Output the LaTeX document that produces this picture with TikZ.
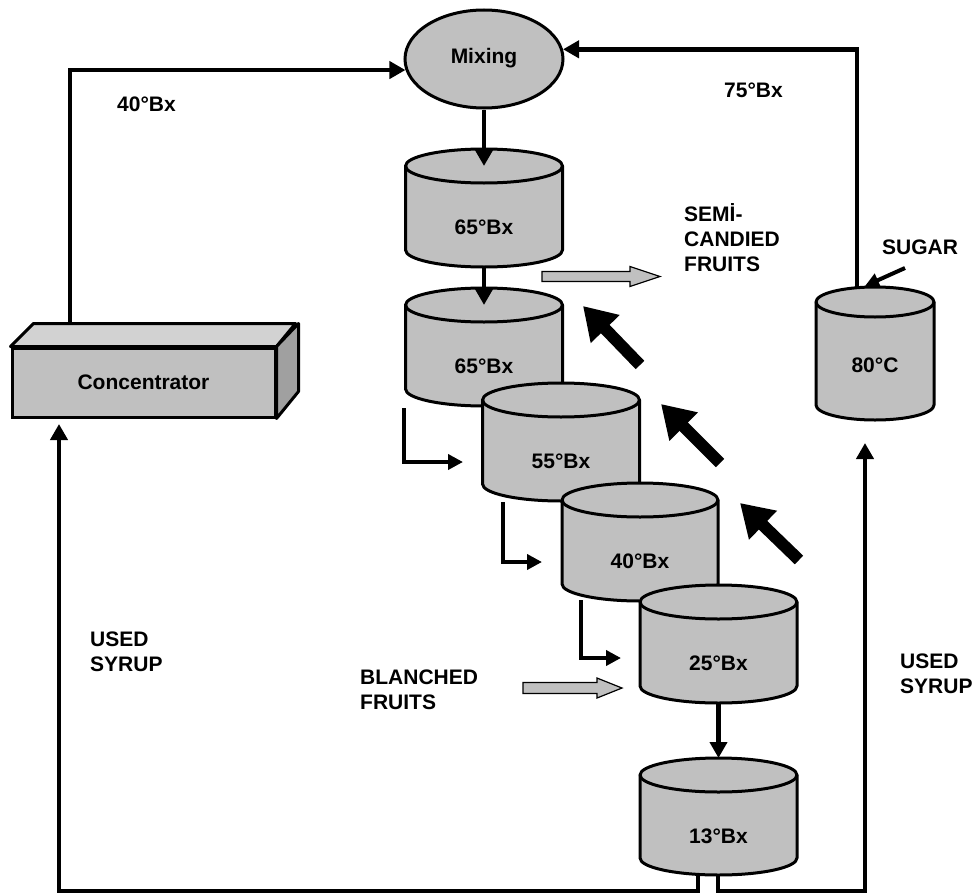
\documentclass[tikz,border=0pt]{standalone}
\usepackage{fontspec}
\setmainfont{Liberation Sans}
\usetikzlibrary{arrows.meta,shapes.geometric}
\definecolor{fillg}{HTML}{C0C0C0}
\definecolor{topg}{HTML}{D2D2D2}
\definecolor{sideg}{HTML}{A0A0A0}
\tikzset{
  cylbody/.style={fill=fillg, draw=black, line width=3pt, line join=round},
  cylline/.style={draw=black, line width=3pt},
  lbl/.style={font=\bfseries\fontsize{21}{25}\selectfont, align=left, inner sep=0pt},
  flow/.style={line width=4.5pt, -{Triangle[width=17pt,length=16pt]}},
  larr/.style={line width=4pt, -{Triangle[width=15pt,length=15pt]}},
  bigarr/.style={line width=12pt, -{Triangle[width=38pt,length=32pt]}},
  blockarr/.style={fill=fillg, draw=black, line width=1.2pt, line join=miter},
  boxface/.style={draw=black, line width=3pt, line join=round}
}
% #1 name, #2 cx, #3 rx, #4 top-centre y, #5 bottom-centre y, #6 ry, #7 text
\newcommand{\mycyl}[7]{%
  \filldraw[cylbody] (#2-#3,#4) -- (#2-#3,#5)
     arc[start angle=180,end angle=360,x radius=#3pt,y radius=#6pt]
     -- (#2+#3,#4)
     arc[start angle=0,end angle=180,x radius=#3pt,y radius=#6pt] -- cycle;
  \draw[cylline] (#2-#3,#4) arc[start angle=180,end angle=360,x radius=#3pt,y radius=#6pt];
  \node[lbl] (#1) at (#2,#4+61) {#7};
  \coordinate (#1-top) at (#2,#4-#6);
  \coordinate (#1-mid) at (#2,#4);
  \coordinate (#1-bot) at (#2,#5+#6);
}
\begin{document}
\begin{tikzpicture}[x=1pt,y=-1pt]
\useasboundingbox[fill=white] (0,0) rectangle (978,894);

% Mixing
\node[ellipse, draw=black, fill=fillg, line width=3pt, minimum width=158pt, minimum height=98pt,
      font=\bfseries\fontsize{21}{25}\selectfont, inner sep=0pt] (mix) at (484,59) {\raisebox{7pt}{Mixing}};

% Concentrator box
\node[rectangle, draw=black, fill=fillg, line width=3pt, minimum width=263pt, minimum height=69pt,
      font=\bfseries\fontsize{21}{25}\selectfont, inner sep=0pt] (conc) at (143.5,382.5) {Concentrator};
\filldraw[boxface, fill=topg] (conc.north west) -- ++(23,-23) -- ++(262,0) -- (conc.north east) -- cycle;
\filldraw[boxface, fill=sideg] (conc.north east) -- ++(22,-23) -- ++(0,68) -- (conc.south east) -- cycle;

% cylinders
\mycyl{c1}{484}{78.5}{166}{250}{17}{65°Bx}
\mycyl{c2}{484}{78.5}{305}{389}{17}{65°Bx}
\mycyl{c3}{561}{78.5}{400}{484}{17}{55°Bx}
\mycyl{c4}{640}{78}{500}{584}{17}{40°Bx}
\mycyl{c5}{718.5}{78.5}{602}{686}{17}{25°Bx}
\mycyl{c6}{718.5}{78.5}{775}{858}{17}{13°Bx}
\filldraw[cylbody] (816,302) -- (816,405)
   arc[start angle=180,end angle=360,x radius=59pt,y radius=15pt] -- (934,302)
   arc[start angle=0,end angle=180,x radius=59pt,y radius=15pt] -- cycle;
\draw[cylline] (816,302) arc[start angle=180,end angle=360,x radius=59pt,y radius=15pt];
\node[lbl] (c7) at (875,365) {80°C};

% coordinates
\coordinate (cctop) at (70,325);
\coordinate (c7in) at (857,288);
\coordinate (leg1) at (698,875);
\coordinate (leg2) at (718,875);
\coordinate (conctip) at (59,424);
\coordinate (c7tip) at (865,443);

% main loop
\draw[flow, line join=miter] (cctop) |- (mix.188);
\draw[flow, line join=miter] (c7in) |- (mix.7);
\draw[flow, line join=miter] (leg1) -- (698,891) -| (conctip);
\draw[flow, line join=miter] (leg2) -- (718,891) -| (c7tip);

% vertical short arrows
\draw[flow] (mix.south) -- (c1-mid);
\draw[flow] (c1-bot) -- (c2-mid);
\draw[flow] (c5-bot) -- (c6-top);

% L arrows
\coordinate (l1s) at (404,408); \coordinate (l1e) at (463,462);
\coordinate (l2s) at (503,502); \coordinate (l2e) at (542,562);
\coordinate (l3s) at (581,600); \coordinate (l3e) at (621,658);
\draw[larr, line join=miter] (l1s) |- (l1e);
\draw[larr, line join=miter] (l2s) |- (l2e);
\draw[larr, line join=miter] (l3s) |- (l3e);

% big diagonal arrows
\coordinate (b1s) at (640,365); \coordinate (b1e) at (583,306);
\coordinate (b2s) at (720,463); \coordinate (b2e) at (661,404);
\coordinate (b3s) at (799,560); \coordinate (b3e) at (740,503);
\draw[bigarr] (b1s) -- (b1e);
\draw[bigarr] (b2s) -- (b2e);
\draw[bigarr] (b3s) -- (b3e);

% sugar arrow
\coordinate (sugs) at (905,268); \coordinate (suge) at (865,286);
\draw[line width=4pt, -{Triangle[width=14pt,length=14pt]}] (sugs) -- (suge);

% gray block arrows
\path[blockarr] (542,271.5) -- (630,271.5) -- (630,266.5) -- (660,276.5) -- (630,286.5) -- (630,281.5) -- (542,281.5) -- cycle;
\path[blockarr] (523,682.5) -- (597,682.5) -- (597,678) -- (622,688) -- (597,698) -- (597,693.5) -- (523,693.5) -- cycle;

% labels
\node[lbl, anchor=west] (l40) at (117,104) {40°Bx};
\node[lbl, anchor=west] (l75) at (724,90) {75°Bx};
\node[lbl, anchor=west] (lsemi) at (684,238) {SEMİ-\\CANDIED\\FRUITS};
\node[lbl, anchor=west] (lsugar) at (882,247) {SUGAR};
\node[lbl, anchor=west] (lblanch) at (360,689.5) {BLANCHED\\FRUITS};
\node[lbl, anchor=west] (lusedl) at (90,652) {USED\\SYRUP};
\node[lbl, anchor=west] (lusedr) at (900,674) {USED\\SYRUP};
\end{tikzpicture}
\end{document}
